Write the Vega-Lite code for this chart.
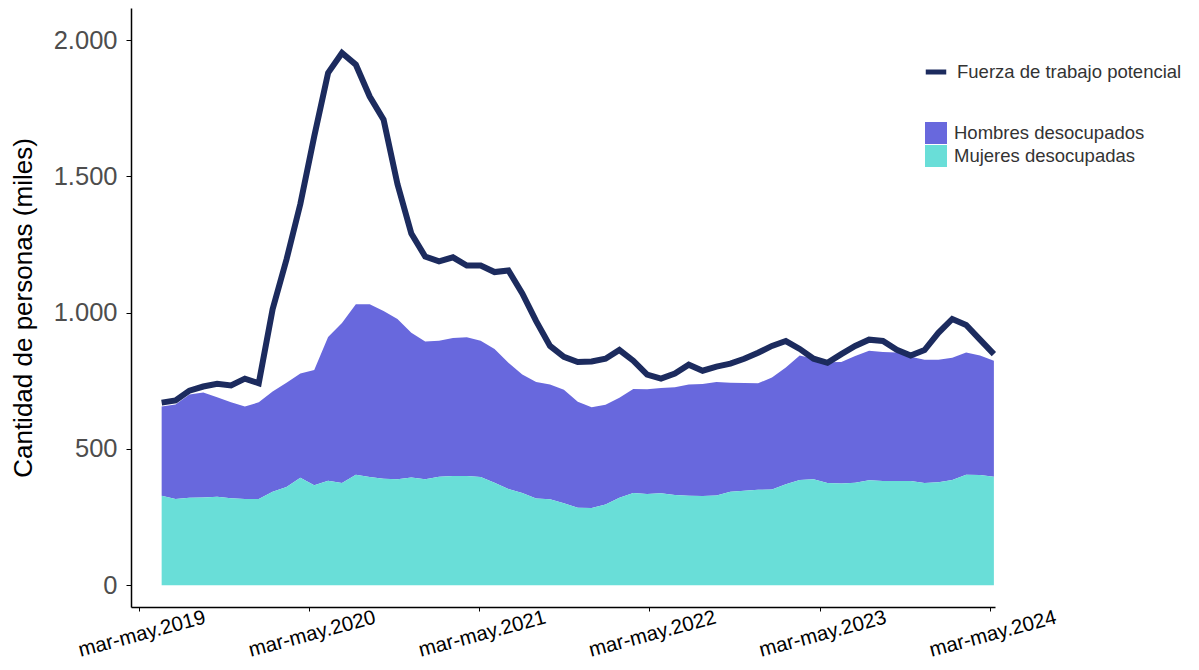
{
  "$schema": "https://vega.github.io/schema/vega-lite/v6.json",
  "width": 864,
  "height": 599,
  "autosize": {"type": "none"},
  "padding": {"left": 131, "top": 8, "right": 204, "bottom": 63},
  "background": "white",
  "config": {"view": {"stroke": null}, "font": "Liberation Sans"},
  "data": {"values": [
    {"t":1,"Hombres desocupados":328,"Mujeres desocupadas":328,"Fuerza de trabajo potencial":670},
    {"t":2,"Hombres desocupados":347,"Mujeres desocupadas":316,"Fuerza de trabajo potencial":678},
    {"t":3,"Hombres desocupados":379,"Mujeres desocupadas":321,"Fuerza de trabajo potencial":714},
    {"t":4,"Hombres desocupados":385,"Mujeres desocupadas":322,"Fuerza de trabajo potencial":729},
    {"t":5,"Hombres desocupados":365,"Mujeres desocupadas":325,"Fuerza de trabajo potencial":739},
    {"t":6,"Hombres desocupados":352,"Mujeres desocupadas":319,"Fuerza de trabajo potencial":733},
    {"t":7,"Hombres desocupados":340,"Mujeres desocupadas":316,"Fuerza de trabajo potencial":758},
    {"t":8,"Hombres desocupados":355,"Mujeres desocupadas":316,"Fuerza de trabajo potencial":741},
    {"t":9,"Hombres desocupados":368,"Mujeres desocupadas":343,"Fuerza de trabajo potencial":1013},
    {"t":10,"Hombres desocupados":383,"Mujeres desocupadas":360,"Fuerza de trabajo potencial":1195},
    {"t":11,"Hombres desocupados":383,"Mujeres desocupadas":394,"Fuerza de trabajo potencial":1399},
    {"t":12,"Hombres desocupados":423,"Mujeres desocupadas":367,"Fuerza de trabajo potencial":1647},
    {"t":13,"Hombres desocupados":528,"Mujeres desocupadas":383,"Fuerza de trabajo potencial":1880},
    {"t":14,"Hombres desocupados":587,"Mujeres desocupadas":375,"Fuerza de trabajo potencial":1953},
    {"t":15,"Hombres desocupados":626,"Mujeres desocupadas":405,"Fuerza de trabajo potencial":1910},
    {"t":16,"Hombres desocupados":634,"Mujeres desocupadas":397,"Fuerza de trabajo potencial":1793},
    {"t":17,"Hombres desocupados":615,"Mujeres desocupadas":391,"Fuerza de trabajo potencial":1708},
    {"t":18,"Hombres desocupados":588,"Mujeres desocupadas":389,"Fuerza de trabajo potencial":1472},
    {"t":19,"Hombres desocupados":531,"Mujeres desocupadas":395,"Fuerza de trabajo potencial":1290},
    {"t":20,"Hombres desocupados":505,"Mujeres desocupadas":389,"Fuerza de trabajo potencial":1206},
    {"t":21,"Hombres desocupados":499,"Mujeres desocupadas":398,"Fuerza de trabajo potencial":1188},
    {"t":22,"Hombres desocupados":506,"Mujeres desocupadas":401,"Fuerza de trabajo potencial":1203},
    {"t":23,"Hombres desocupados":509,"Mujeres desocupadas":401,"Fuerza de trabajo potencial":1173},
    {"t":24,"Hombres desocupados":500,"Mujeres desocupadas":397,"Fuerza de trabajo potencial":1173},
    {"t":25,"Hombres desocupados":491,"Mujeres desocupadas":376,"Fuerza de trabajo potencial":1149},
    {"t":26,"Hombres desocupados":463,"Mujeres desocupadas":353,"Fuerza de trabajo potencial":1155},
    {"t":27,"Hombres desocupados":435,"Mujeres desocupadas":338,"Fuerza de trabajo potencial":1071},
    {"t":28,"Hombres desocupados":428,"Mujeres desocupadas":318,"Fuerza de trabajo potencial":969},
    {"t":29,"Hombres desocupados":421,"Mujeres desocupadas":315,"Fuerza de trabajo potencial":878},
    {"t":30,"Hombres desocupados":416,"Mujeres desocupadas":301,"Fuerza de trabajo potencial":838},
    {"t":31,"Hombres desocupados":389,"Mujeres desocupadas":284,"Fuerza de trabajo potencial":819},
    {"t":32,"Hombres desocupados":370,"Mujeres desocupadas":283,"Fuerza de trabajo potencial":821},
    {"t":33,"Hombres desocupados":366,"Mujeres desocupadas":296,"Fuerza de trabajo potencial":831},
    {"t":34,"Hombres desocupados":367,"Mujeres desocupadas":321,"Fuerza de trabajo potencial":863},
    {"t":35,"Hombres desocupados":382,"Mujeres desocupadas":338,"Fuerza de trabajo potencial":824},
    {"t":36,"Hombres desocupados":384,"Mujeres desocupadas":335,"Fuerza de trabajo potencial":773},
    {"t":37,"Hombres desocupados":387,"Mujeres desocupadas":337,"Fuerza de trabajo potencial":758},
    {"t":38,"Hombres desocupados":395,"Mujeres desocupadas":331,"Fuerza de trabajo potencial":777},
    {"t":39,"Hombres desocupados":408,"Mujeres desocupadas":328,"Fuerza de trabajo potencial":809},
    {"t":40,"Hombres desocupados":411,"Mujeres desocupadas":327,"Fuerza de trabajo potencial":787},
    {"t":41,"Hombres desocupados":417,"Mujeres desocupadas":329,"Fuerza de trabajo potencial":802},
    {"t":42,"Hombres desocupados":400,"Mujeres desocupadas":343,"Fuerza de trabajo potencial":813},
    {"t":43,"Hombres desocupados":395,"Mujeres desocupadas":347,"Fuerza de trabajo potencial":831},
    {"t":44,"Hombres desocupados":391,"Mujeres desocupadas":350,"Fuerza de trabajo potencial":853},
    {"t":45,"Hombres desocupados":411,"Mujeres desocupadas":351,"Fuerza de trabajo potencial":878},
    {"t":46,"Hombres desocupados":429,"Mujeres desocupadas":370,"Fuerza de trabajo potencial":896},
    {"t":47,"Hombres desocupados":457,"Mujeres desocupadas":386,"Fuerza de trabajo potencial":867},
    {"t":48,"Hombres desocupados":442,"Mujeres desocupadas":389,"Fuerza de trabajo potencial":831},
    {"t":49,"Hombres desocupados":443,"Mujeres desocupadas":375,"Fuerza de trabajo potencial":816},
    {"t":50,"Hombres desocupados":446,"Mujeres desocupadas":373,"Fuerza de trabajo potencial":848},
    {"t":51,"Hombres desocupados":465,"Mujeres desocupadas":376,"Fuerza de trabajo potencial":878},
    {"t":52,"Hombres desocupados":475,"Mujeres desocupadas":385,"Fuerza de trabajo potencial":901},
    {"t":53,"Hombres desocupados":474,"Mujeres desocupadas":382,"Fuerza de trabajo potencial":896},
    {"t":54,"Hombres desocupados":472,"Mujeres desocupadas":382,"Fuerza de trabajo potencial":864},
    {"t":55,"Hombres desocupados":456,"Mujeres desocupadas":382,"Fuerza de trabajo potencial":843},
    {"t":56,"Hombres desocupados":452,"Mujeres desocupadas":375,"Fuerza de trabajo potencial":863},
    {"t":57,"Hombres desocupados":449,"Mujeres desocupadas":378,"Fuerza de trabajo potencial":926},
    {"t":58,"Hombres desocupados":449,"Mujeres desocupadas":386,"Fuerza de trabajo potencial":977},
    {"t":59,"Hombres desocupados":449,"Mujeres desocupadas":405,"Fuerza de trabajo potencial":955},
    {"t":60,"Hombres desocupados":439,"Mujeres desocupadas":404,"Fuerza de trabajo potencial":901},
    {"t":61,"Hombres desocupados":426,"Mujeres desocupadas":398,"Fuerza de trabajo potencial":848}
  ]},
  "encoding": {
    "x": {
      "field": "t", "type": "quantitative",
      "scale": {"domain": [-1.21, 61.08], "nice": false, "zero": false},
      "axis": {
        "values": [-0.64, 11.63, 23.9, 36.17, 48.44, 60.71],
        "labelExpr": "'mar-may.' + (2019 + round((datum.value + 0.64) / 12.27))",
        "labelAngle": -15, "labelAlign": "center", "labelBaseline": "top",
        "labelFontSize": 20.5, "labelColor": "black", "labelPadding": 13,
        "labelFlush": false, "labelOverlap": false, "labelBound": false,
        "tickColor": "black", "tickSize": 4, "tickWidth": 1,
        "domainColor": "black", "domainWidth": 1.5,
        "grid": false, "title": null
      }
    },
    "y": {
      "field": "valor", "type": "quantitative",
      "scale": {"domain": [-80, 2118], "nice": false, "zero": false},
      "axis": {
        "values": [0, 500, 1000, 1500, 2000],
        "labelExpr": "replace(format(datum.value, ','), ',', '.')",
        "labelFontSize": 25.5, "labelColor": "#4D4D4D", "labelPadding": 9,
        "tickColor": "black", "tickSize": 5, "tickWidth": 1,
        "domainColor": "black", "domainWidth": 1.5,
        "grid": false,
        "title": "Cantidad de personas (miles)",
        "titleFontSize": 26, "titleFontWeight": "normal", "titleColor": "black", "titlePadding": 17
      }
    }
  },
  "layer": [
    {
      "transform": [{"fold": ["Hombres desocupados", "Mujeres desocupadas"], "as": ["sexo", "valor"]}],
      "mark": {"type": "area", "opacity": 1},
      "encoding": {
        "fill": {
          "field": "sexo", "type": "nominal",
          "scale": {"domain": ["Hombres desocupados", "Mujeres desocupadas"], "range": ["#6868DD", "#69DED8"]},
          "legend": {
            "orient": "none", "legendX": 794, "legendY": 114, "title": null,
            "symbolType": "square", "symbolSize": 484, "symbolStrokeWidth": 0, "symbolOpacity": 1,
            "labelFontSize": 18.5, "labelColor": "#333333", "labelOffset": 7, "rowPadding": 1,
            "labelLimit": 0
          }
        }
      }
    },
    {
      "transform": [{"fold": ["Fuerza de trabajo potencial"], "as": ["serie", "valor"]}],
      "mark": {"type": "line", "strokeWidth": 6},
      "encoding": {
        "stroke": {
          "field": "serie", "type": "nominal",
          "scale": {"range": ["#1C2B5E"]},
          "legend": {
            "orient": "none", "legendX": 792, "legendY": 51, "title": null,
            "symbolType": "stroke", "symbolSize": 420, "symbolStrokeWidth": 5,
            "labelFontSize": 18.5, "labelColor": "#333333", "labelOffset": 8,
            "labelLimit": 0
          }
        }
      }
    }
  ]
}
